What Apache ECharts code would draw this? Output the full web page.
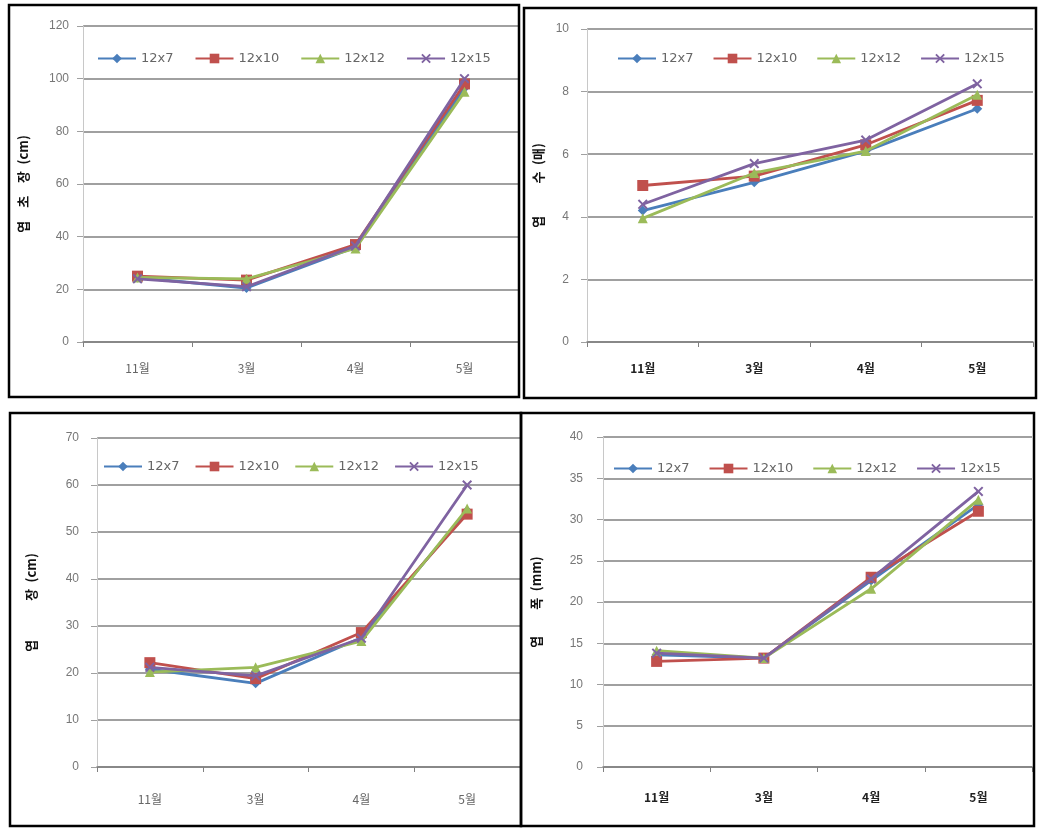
<!DOCTYPE html>
<html><head><meta charset="utf-8">
<script src="https://cdn.jsdelivr.net/npm/echarts@6/dist/echarts.min.js"></script>
<style>html,body{margin:0;padding:0;background:#fff}#c{width:1048px;height:830px}</style>
</head><body><div id="c"></div>
<script>
const categories = ['11월', '3월', '4월', '5월'];
const seriesNames = ['12x7', '12x10', '12x12', '12x15'];

// Panel 1: 엽초장 (cm)
const p1_12x7  = [24.5, 20.5, 36, 96.5];
const p1_12x10 = [25, 23.5, 37, 98];
const p1_12x12 = [24.5, 24, 35.5, 95];
const p1_12x15 = [24, 21, 36.5, 100];
// Panel 2: 엽수 (매)
const p2_12x7  = [4.2, 5.1, 6.1, 7.45];
const p2_12x10 = [5.0, 5.3, 6.3, 7.72];
const p2_12x12 = [3.95, 5.4, 6.1, 7.9];
const p2_12x15 = [4.4, 5.7, 6.45, 8.25];
// Panel 3: 엽장 (cm)
const p3_12x7  = [20.8, 17.8, 27.5, 54.5];
const p3_12x10 = [22.2, 18.8, 28.6, 53.8];
const p3_12x12 = [20.2, 21.2, 26.8, 55];
const p3_12x15 = [21.2, 19.4, 27.4, 60];
// Panel 4: 엽폭 (mm)
const p4_12x7  = [13.6, 13.2, 22.6, 31.8];
const p4_12x10 = [12.8, 13.2, 23, 31];
const p4_12x12 = [14.1, 13.2, 21.6, 32.4];
const p4_12x15 = [13.8, 13.2, 22.8, 33.4];

const yTitles = [
  '엽\u2003초\u2003장\u2002(cm)',
  '엽\u2003\u2003\u2002수\u2002(매)',
  '엽\u2003\u2003\u2003장\u2002(cm)',
  '엽\u2003\u2003폭\u2002(mm)'
];
const yMax = [120, 10, 70, 40];
const yInterval = [20, 2, 10, 5];

const panelData = [
  [p1_12x7, p1_12x10, p1_12x12, p1_12x15],
  [p2_12x7, p2_12x10, p2_12x12, p2_12x15],
  [p3_12x7, p3_12x10, p3_12x12, p3_12x15],
  [p4_12x7, p4_12x10, p4_12x12, p4_12x15]
];

const colors = ['#4A7EBB', '#C0504D', '#9BBB59', '#7F63A1'];
const xSym = 'path://M0,1.4L1.4,0L5,3.6L8.6,0L10,1.4L6.4,5L10,8.6L8.6,10L5,6.4L1.4,10L0,8.6L3.6,5Z';
const symbols = ['diamond', 'rect', 'triangle', xSym];
const symSizes = [10, 11, 10, 10];

const grids = [
  {left: 83, top: 26, width: 436, height: 316},
  {left: 587, top: 29, width: 446, height: 313},
  {left: 97, top: 438, width: 423, height: 329},
  {left: 603, top: 437, width: 429, height: 330}
];
const nameGaps = [53, 42, 59, 60];
const yLabelMargins = [14, 18, 18, 20];
const xLabelMargins = [20, 20, 26, 24];
const legendPos = [
  {left: 92, top: 47, itemGap: 21},
  {left: 612, top: 47, itemGap: 19},
  {left: 98, top: 455, itemGap: 15},
  {left: 608, top: 457, itemGap: 19}
];
const frames = [
  {x: 9, y: 5, w: 510, h: 392},
  {x: 524, y: 8, w: 512, h: 390},
  {x: 10, y: 413, w: 511, h: 413},
  {x: 521, y: 413, w: 513, h: 413}
];

const fontKR = '"Noto Sans CJK KR", "Noto Sans", sans-serif';
const chart = echarts.init(document.getElementById('c'));

const option = {
  backgroundColor: '#fff',
  animation: false,
  grid: grids.map(g => Object.assign({containLabel: false, outerBoundsMode: 'none'}, g)),
  xAxis: grids.map((g, i) => ({
    type: 'category', gridIndex: i, data: categories, boundaryGap: true,
    axisLine: {show: true, lineStyle: {color: '#808080', width: 1.6}},
    axisTick: {show: true, length: 5, lineStyle: {color: '#808080'}},
    axisLabel: {
      margin: xLabelMargins[i], fontFamily: fontKR, fontSize: 12,
      color: (i % 2 === 1) ? '#222' : '#666', fontWeight: (i % 2 === 1) ? 'bold' : 'normal'
    },
    splitLine: {show: false}
  })),
  yAxis: grids.map((g, i) => ({
    type: 'value', gridIndex: i, min: 0, max: yMax[i], interval: yInterval[i],
    name: yTitles[i], nameLocation: 'middle', nameGap: nameGaps[i], nameRotate: 90,
    nameTextStyle: {fontFamily: fontKR, fontSize: 13, fontWeight: 'bold', color: '#111'},
    axisLine: {show: true, lineStyle: {color: '#c8c8c8', width: 1}},
    axisTick: {show: true, length: 6, lineStyle: {color: '#a0a0a0'}},
    axisLabel: {margin: yLabelMargins[i], fontFamily: 'Liberation Sans, sans-serif', fontSize: 12, color: '#777'},
    splitLine: {show: true, lineStyle: {color: '#808080', width: 1.6}}
  })),
  legend: legendPos.map((l, i) => ({
    data: seriesNames, left: l.left, top: l.top, itemGap: l.itemGap,
    itemWidth: 38, itemHeight: 12,
    textStyle: {fontFamily: 'DejaVu Sans, sans-serif', fontSize: 13, color: '#666'},
    selectedMode: false
  })),
  graphic: frames.map(f => ({
    type: 'rect', shape: {x: f.x, y: f.y, width: f.w, height: f.h},
    style: {fill: 'none', stroke: '#000', lineWidth: 2.5}, z: 100, silent: true
  })),
  series: []
};

panelData.forEach((arrs, p) => {
  arrs.forEach((vals, s) => {
    option.series.push({
      type: 'line', name: seriesNames[s], xAxisIndex: p, yAxisIndex: p,
      data: vals, symbol: symbols[s], symbolSize: symSizes[s],
      showAllSymbol: true,
      lineStyle: {color: colors[s], width: 2.8},
      itemStyle: {color: colors[s], borderColor: colors[s], borderWidth: 0},
      z: 3 + s
    });
  });
});

chart.setOption(option);
</script>
</body></html>
